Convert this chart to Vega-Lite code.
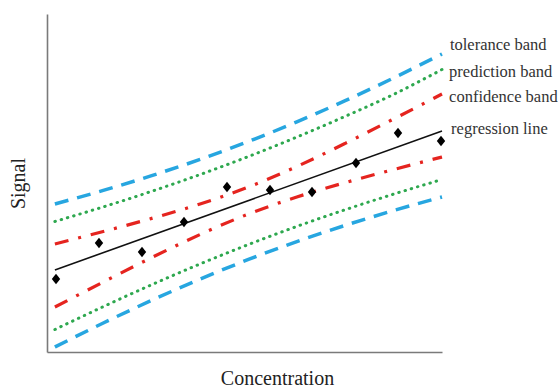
{
  "$schema": "https://vega.github.io/schema/vega-lite/v6.json",
  "width": 395,
  "height": 338,
  "autosize": {"type": "none"},
  "padding": {"left": 47, "top": 14, "right": 116, "bottom": 35},
  "background": "white",
  "config": {
    "view": {"stroke": null},
    "font": "Liberation Serif"
  },
  "datasets": {
    "bands": [
      {"line": "tolU", "x": 0.2, "y": 4.379}, {"line": "tolU", "x": 1.425, "y": 4.78}, {"line": "tolU", "x": 2.65, "y": 5.218}, {"line": "tolU", "x": 3.875, "y": 5.698}, {"line": "tolU", "x": 5.1, "y": 6.228}, {"line": "tolU", "x": 6.325, "y": 6.808}, {"line": "tolU", "x": 7.55, "y": 7.437}, {"line": "tolU", "x": 8.775, "y": 8.108}, {"line": "tolU", "x": 10.0, "y": 8.817},
      {"line": "tolL", "x": 0.2, "y": 0.148}, {"line": "tolL", "x": 1.425, "y": 0.857}, {"line": "tolL", "x": 2.65, "y": 1.528}, {"line": "tolL", "x": 3.875, "y": 2.157}, {"line": "tolL", "x": 5.1, "y": 2.737}, {"line": "tolL", "x": 6.325, "y": 3.266}, {"line": "tolL", "x": 7.55, "y": 3.747}, {"line": "tolL", "x": 8.775, "y": 4.185}, {"line": "tolL", "x": 10.0, "y": 4.586},
      {"line": "predU", "x": 0.2, "y": 3.861}, {"line": "predU", "x": 1.425, "y": 4.293}, {"line": "predU", "x": 2.65, "y": 4.754}, {"line": "predU", "x": 3.875, "y": 5.25}, {"line": "predU", "x": 5.1, "y": 5.784}, {"line": "predU", "x": 6.325, "y": 6.359}, {"line": "predU", "x": 7.55, "y": 6.973}, {"line": "predU", "x": 8.775, "y": 7.622}, {"line": "predU", "x": 10.0, "y": 8.358},
      {"line": "predL", "x": 0.2, "y": 0.666}, {"line": "predL", "x": 1.425, "y": 1.343}, {"line": "predL", "x": 2.65, "y": 1.991}, {"line": "predL", "x": 3.875, "y": 2.605}, {"line": "predL", "x": 5.1, "y": 3.18}, {"line": "predL", "x": 6.325, "y": 3.715}, {"line": "predL", "x": 7.55, "y": 4.21}, {"line": "predL", "x": 8.775, "y": 4.671}, {"line": "predL", "x": 10.0, "y": 5.104},
      {"line": "confU", "x": 0.2, "y": 3.195}, {"line": "confU", "x": 1.425, "y": 3.565}, {"line": "confU", "x": 2.65, "y": 3.953}, {"line": "confU", "x": 3.875, "y": 4.379}, {"line": "confU", "x": 5.1, "y": 4.882}, {"line": "confU", "x": 6.325, "y": 5.488}, {"line": "confU", "x": 7.55, "y": 6.172}, {"line": "confU", "x": 8.775, "y": 6.894}, {"line": "confU", "x": 10.0, "y": 7.633},
      {"line": "confL", "x": 0.2, "y": 1.331}, {"line": "confL", "x": 1.425, "y": 2.071}, {"line": "confL", "x": 2.65, "y": 2.793}, {"line": "confL", "x": 3.875, "y": 3.476}, {"line": "confL", "x": 5.1, "y": 4.083}, {"line": "confL", "x": 6.325, "y": 4.586}, {"line": "confL", "x": 7.55, "y": 5.012}, {"line": "confL", "x": 8.775, "y": 5.399}, {"line": "confL", "x": 10.0, "y": 5.769},
      {"line": "reg", "x": 0.2, "y": 2.426}, {"line": "reg", "x": 10.0, "y": 6.538}
    ],
    "pts": [
      {"x": 0.228, "y": 2.16}, {"x": 1.316, "y": 3.225}, {"x": 2.405, "y": 2.959}, {"x": 3.468, "y": 3.846}, {"x": 4.557, "y": 4.882},
      {"x": 5.646, "y": 4.793}, {"x": 6.709, "y": 4.734}, {"x": 7.823, "y": 5.592}, {"x": 8.886, "y": 6.479}, {"x": 9.975, "y": 6.243}
    ],
    "labels": [
      {"label": "tolerance band", "x": 10.2, "y": 9.083},
      {"label": "prediction band", "x": 10.18, "y": 8.284},
      {"label": "confidence band", "x": 10.18, "y": 7.544},
      {"label": "regression line", "x": 10.23, "y": 6.598}
    ]
  },
  "encoding": {
    "x": {"field": "x", "type": "quantitative", "scale": {"domain": [0, 10], "nice": false, "zero": false},
      "axis": {"title": "Concentration", "ticks": false, "labels": false, "grid": false, "domainColor": "#7a7a7a", "domainWidth": 1.6,
        "titleFont": "Liberation Serif", "titleFontSize": 20, "titleFontWeight": "normal", "titleColor": "#222",
        "titleX": 230, "titleY": 26, "titleBaseline": "middle", "titleAlign": "center"}},
    "y": {"field": "y", "type": "quantitative", "scale": {"domain": [0, 10], "nice": false, "zero": false},
      "axis": {"title": "Signal", "ticks": false, "labels": false, "grid": false, "domainColor": "#7a7a7a", "domainWidth": 1.6,
        "titleFont": "Liberation Serif", "titleFontSize": 20, "titleFontWeight": "normal", "titleColor": "#222",
        "titleX": -29, "titleY": 169, "titleBaseline": "middle", "titleAlign": "center", "titleAngle": -90}}
  },
  "layer": [
    {
      "data": {"name": "bands"},
      "transform": [{"filter": "datum.line === 'tolU' || datum.line === 'tolL'"}],
      "mark": {"type": "line", "color": "#27a6e0", "strokeWidth": 3.5, "strokeDash": [14, 9], "interpolate": "monotone"},
      "encoding": {"detail": {"field": "line"}}
    },
    {
      "data": {"name": "bands"},
      "transform": [{"filter": "datum.line === 'predU' || datum.line === 'predL'"}],
      "mark": {"type": "line", "color": "#2ea84f", "strokeWidth": 3, "strokeDash": [0.5, 6], "strokeCap": "round", "interpolate": "monotone"},
      "encoding": {"detail": {"field": "line"}}
    },
    {
      "data": {"name": "bands"},
      "transform": [{"filter": "datum.line === 'confU' || datum.line === 'confL'"}],
      "mark": {"type": "line", "color": "#e5241f", "strokeWidth": 3.2, "strokeDash": [14, 10, 3, 10], "interpolate": "monotone"},
      "encoding": {"detail": {"field": "line"}}
    },
    {
      "data": {"name": "bands"},
      "transform": [{"filter": "datum.line === 'reg'"}],
      "mark": {"type": "line", "color": "#111", "strokeWidth": 1.6},
      "encoding": {}
    },
    {
      "data": {"name": "pts"},
      "mark": {"type": "point", "shape": "M0,-1L0.8,0L0,1L-0.8,0Z", "filled": true, "color": "#000", "opacity": 1, "size": 110},
      "encoding": {}
    },
    {
      "data": {"name": "labels"},
      "mark": {"type": "text", "align": "left", "baseline": "middle", "font": "Liberation Serif", "fontSize": 16.5, "color": "#333"},
      "encoding": {"text": {"field": "label"}}
    }
  ]
}
